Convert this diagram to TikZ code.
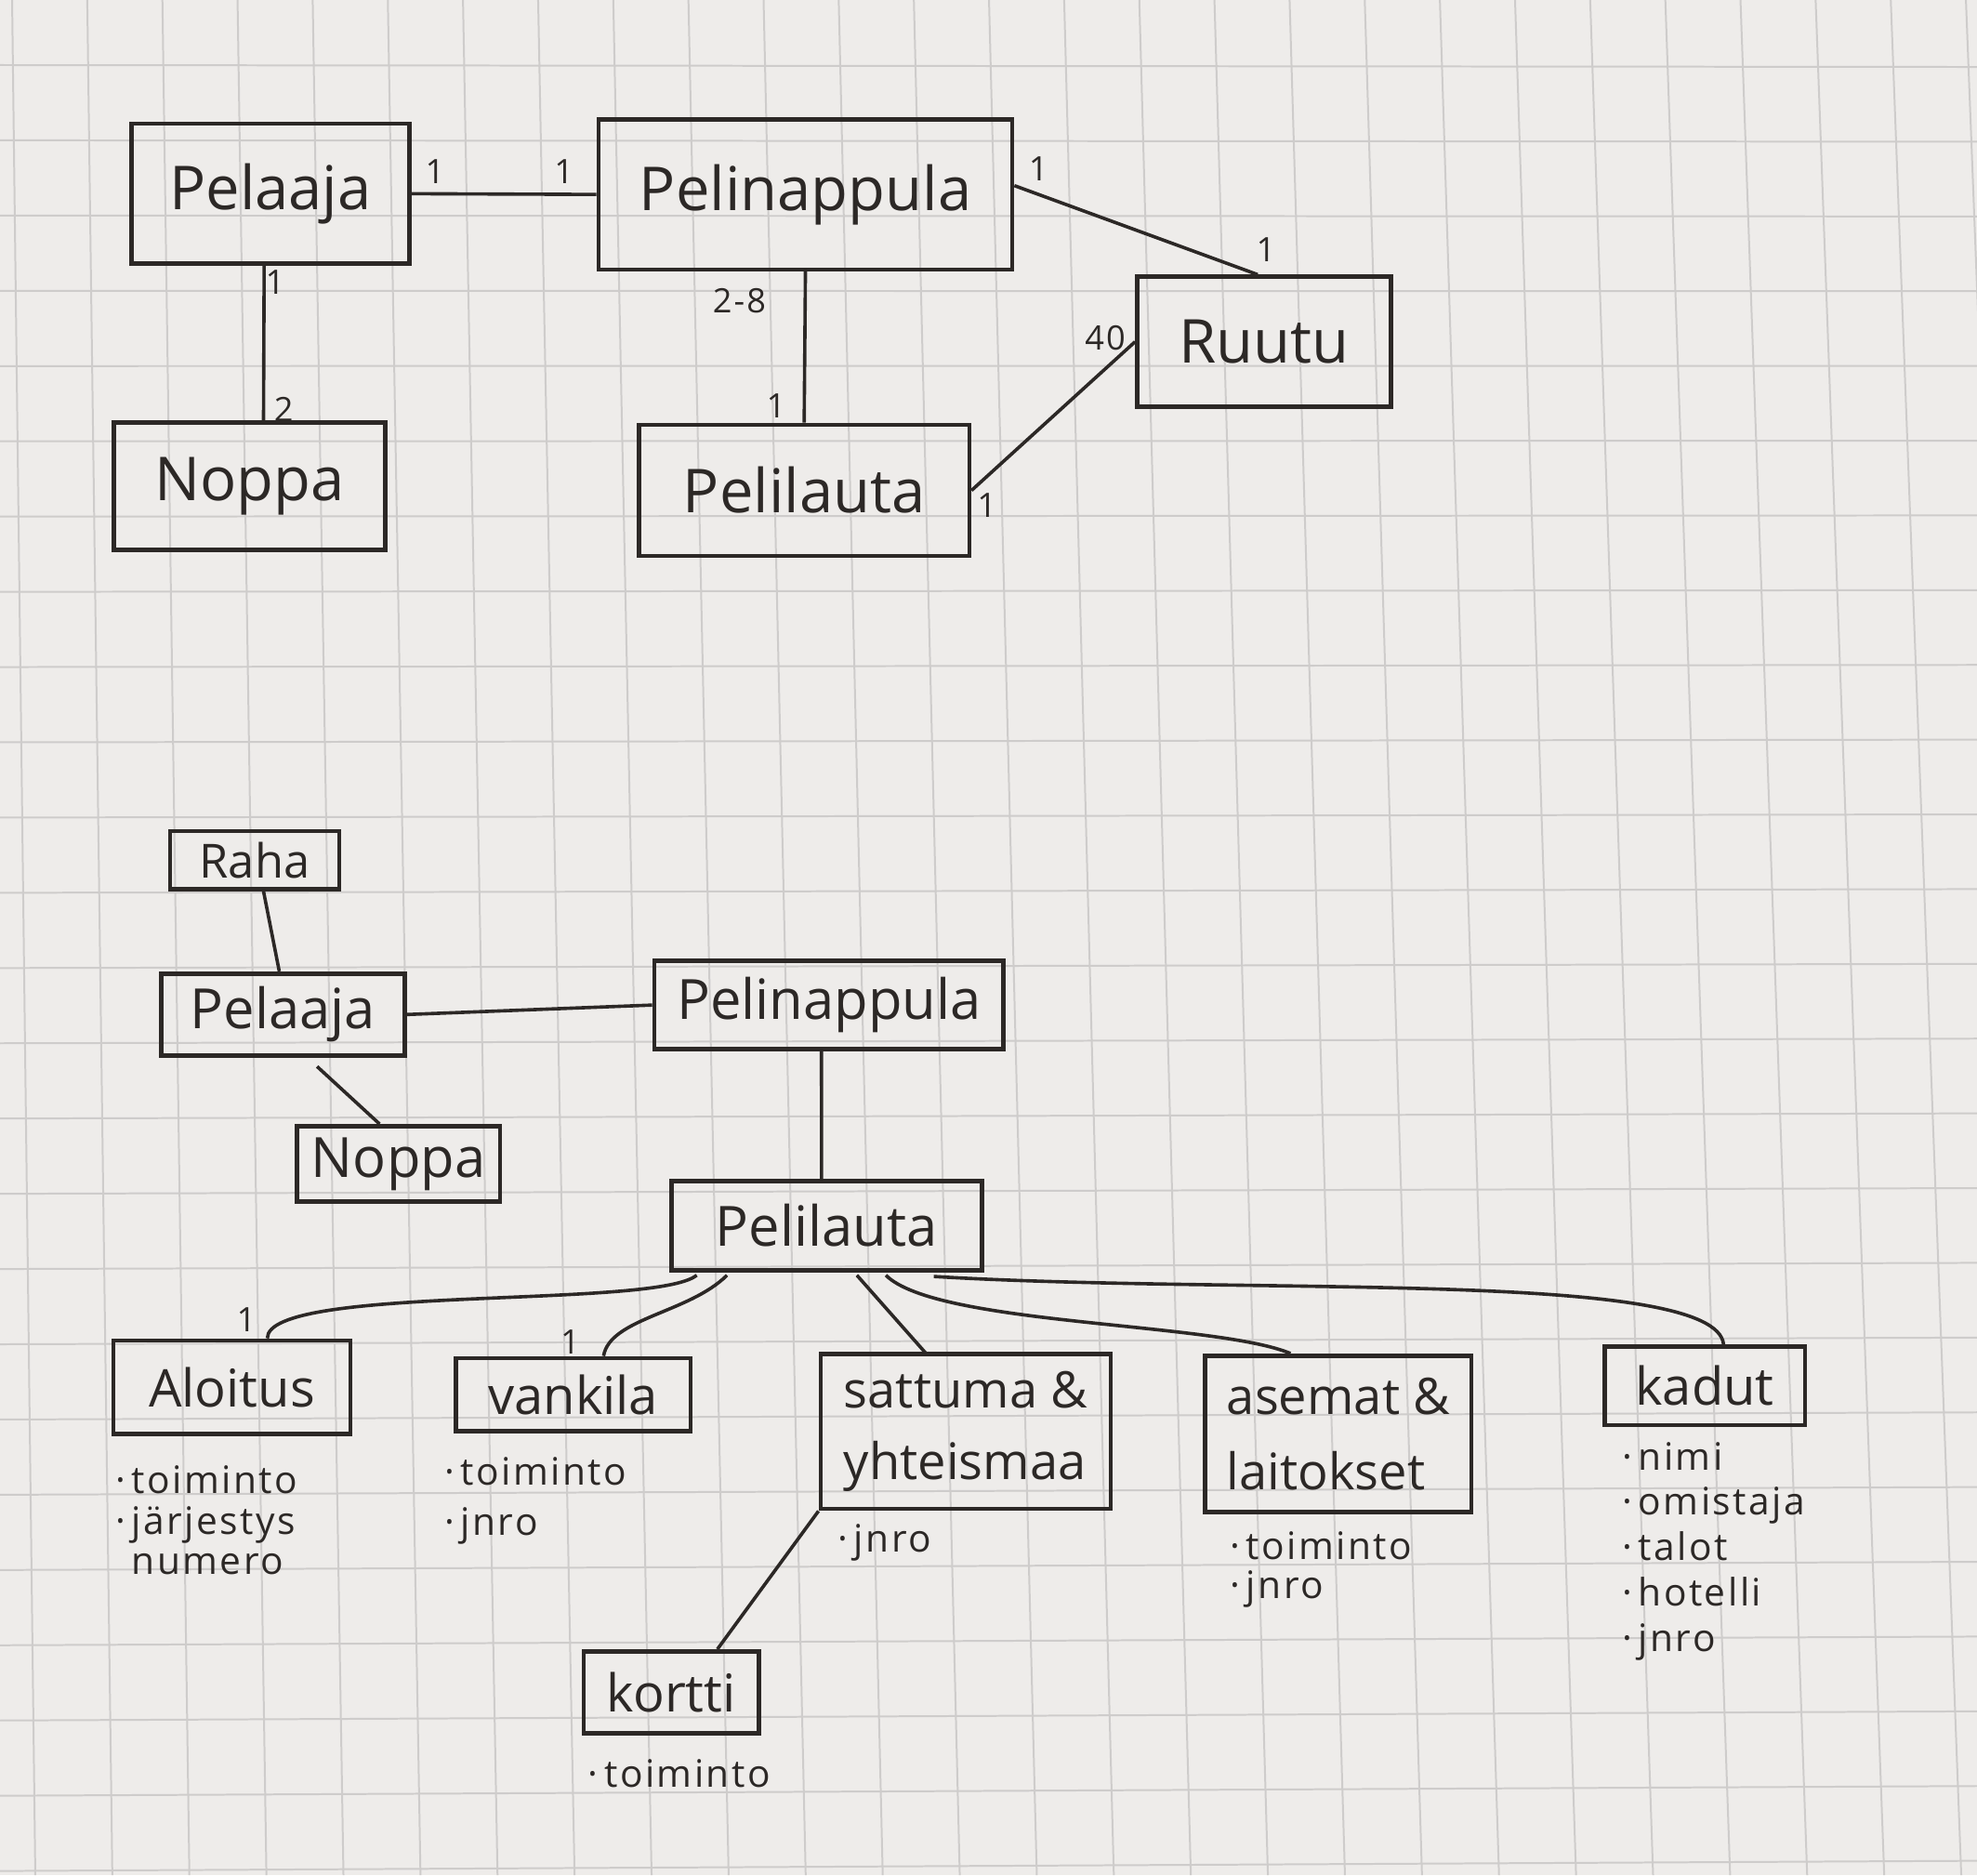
\documentclass[tikz,border=0pt]{standalone}
\usepackage{fontspec}
\setmainfont{Open Sans}
\newfontfamily\kasiala[LetterSpace=6]{Open Sans}
\usetikzlibrary{calc}

\definecolor{papier}{RGB}{238,236,234}
\definecolor{ruudukko}{RGB}{206,204,203}
\definecolor{muste}{RGB}{44,40,38}

\tikzset{every picture/.style={line width=0.75pt}}
\tikzset{
  luokka/.style={draw=muste, line width=2.6pt, rectangle, inner sep=0pt, text=muste, font=\fontsize{31}{40}\selectfont},
  iso/.style={font=\fontsize{36}{44}\selectfont},
  keski/.style={font=\fontsize{33}{40}\selectfont},
  mitat/.style 2 args={minimum width=#1*0.75pt, minimum height=#2*0.75pt},
  ominaisuus/.style={anchor=north west, inner sep=0pt, align=left, text=muste},
  luku/.style={inner sep=0pt, text=muste, font=\kasiala\fontsize{20}{22}\selectfont},
  yhteys/.style={draw=muste, line width=2pt},
  viiva/.style={draw=ruudukko, line width=1.1pt}
}

\begin{document}
\begin{tikzpicture}[x=0.75pt,y=0.75pt,yscale=-1,xscale=1]
    %Paper and grid
    \useasboundingbox (0,0) rectangle (1568,1487);
    \fill[papier] (0,0) rectangle (1568,1487);
    \foreach \k in {0,...,26} \draw[viiva] ({9.6+59.6*\k},0) -- ({28+61.1*\k},1487);
    \foreach \j in {0,...,24} \draw[viiva] (0,{51.6+59.67*\j}) -- (1568,{53.1+59.27*\j});

    %Shape: luokat (ylempi kaavio)
    \node[luokka, iso, mitat={220}{111}] (pelaaja) at (214.5,153.6) {Pelaaja};
    \node[luokka, iso, mitat={328}{119}] (nappula) at (638.8,154.2) {Pelinappula};
    \node[luokka, iso, mitat={201}{103}] (ruutu) at (1002.5,271) {Ruutu};
    \node[luokka, iso, mitat={215}{101}] (noppa) at (198,385.8) {Noppa};
    \node[luokka, iso, mitat={262}{104}] (lauta) at (637.8,388.9) {Pelilauta};

    %Straight Lines
    \draw[yhteys] (pelaaja.east) -- (nappula.west);
    \draw[yhteys] ($(pelaaja.south)+(-5,0)$) -- ($(noppa.north)+(11,0)$);
    \draw[yhteys] (nappula.south) -- (lauta.north);
    \draw[yhteys] ($(nappula.east)+(0,-7)$) -- ($(ruutu.north)+(-5,0)$);
    \draw[yhteys] (lauta.east) -- (ruutu.west);

    % Text Node: kertaluvut
    \node[luku] (mPelNap) at (345,136.4) {1};
    \node[luku] (mNapPel) at (447.3,136.4) {1};
    \node[luku] (mNapRuu) at (823.5,134) {1};
    \node[luku] (mRuuNap) at (1004,197.8) {1};
    \node[luku] (mRuuLau) at (876.6,267.8) {40};
    \node[luku] (mLauRuu) at (782.7,400.4) {1};
    \node[luku] (mNapLau) at (586.4,238.4) {2-8};
    \node[luku] (mLauNap) at (615.5,322) {1};
    \node[luku] (mPelNop) at (218.2,223.6) {1};
    \node[luku] (mNopPel) at (225,324.4) {2};

    %Shape: luokat (alempi kaavio)
    \node[luokka, mitat={134}{46}, font=\fontsize{28}{34}\selectfont] (raha) at (202,682) {Raha};
    \node[luokka, keski, mitat={193}{65}] (pelaaja2) at (224.5,804.5) {Pelaaja};
    \node[luokka, keski, mitat={277}{70}] (nappula2) at (657.5,797) {Pelinappula};
    \node[luokka, keski, mitat={161}{60}] (noppa2) at (316,923) {Noppa};
    \node[luokka, keski, mitat={246}{71}] (lauta2) at (655.6,972) {Pelilauta};
    \node[luokka, mitat={188}{74}] (aloitus) at (184,1100) {Aloitus};
    \node[luokka, mitat={186}{58}] (vankila) at (454.7,1106) {vankila};
    \node[luokka, align=left, mitat={230}{123}, font=\fontsize{30}{42.3}\selectfont] (sattuma) at (765.9,1135) {sattuma \&\\yhteismaa};
    \node[luokka, align=left, mitat={211}{124}, font=\fontsize{30}{45}\selectfont] (asemat) at (1061.5,1137) {asemat \&\\laitokset};
    \node[luokka, mitat={159}{62}] (kadut) at (1352,1099) {kadut};
    \node[luokka, mitat={139}{65}] (kortti) at (532.5,1342) {kortti};

    %Straight Lines and curves
    \draw[yhteys] ($(raha.south)+(7,0)$) -- ($(pelaaja2.north)+(-3,0)$);
    \draw[yhteys] (pelaaja2.east) -- (nappula2.west);
    \draw[yhteys] ($(pelaaja2.south)+(27,7)$) -- ($(noppa2.north)+(-15,0)$);
    \draw[yhteys] ($(nappula2.south)+(-6,0)$) -- ($(lauta2.north)+(-4,0)$);
    \draw[yhteys] ($(lauta2.south)+(-103,2)$) .. controls +(-33,27) and +(0,-43) .. ($(aloitus.north)+(28,0)$);
    \draw[yhteys] ($(lauta2.south)+(-79,2)$) .. controls +(-30,30) and +(5,-30) .. ($(vankila.north)+(24,0)$);
    \draw[yhteys] ($(lauta2.south)+(24,2)$) -- ($(sattuma.north)+(-31,2)$);
    \draw[yhteys] ($(lauta2.south)+(47,2)$) .. controls +(40,40) and +(-60,-25) .. ($(asemat.north)+(-38,0)$);
    \draw[yhteys] ($(lauta2.south)+(85,3)$) .. controls +(250,15) and +(-5,-60) .. ($(kadut.north)+(15,0)$);
    \draw[yhteys] (sattuma.south west) -- ($(kortti.north)+(36.5,0)$);

    % Text Node: kertaluvut
    \node[luku] (mLauAlo) at (195.3,1046.8) {1};
    \node[luku] (mLauVan) at (452.2,1064) {1};

    % Text Node: ominaisuudet
    \node[ominaisuus, font=\kasiala\fontsize{22.5}{24}\selectfont] (aloitusOm) at (91,1162) {·\,toiminto\\·\,järjestys\\\phantom{·\,}numero};
    \node[ominaisuus, font=\kasiala\fontsize{22.5}{30}\selectfont] (vankilaOm) at (352,1155) {·\,toiminto\\·\,jnro};
    \node[ominaisuus, font=\kasiala\fontsize{22.5}{30}\selectfont] (sattumaOm) at (664,1208) {·\,jnro};
    \node[ominaisuus, font=\kasiala\fontsize{22.5}{23.5}\selectfont] (asematOm) at (975,1214) {·\,toiminto\\·\,jnro};
    \node[ominaisuus, font=\kasiala\fontsize{22.5}{27}\selectfont] (kadutOm) at (1286,1143) {·\,nimi\\·\,omistaja\\·\,talot\\·\,hotelli\\·\,jnro};
    \node[ominaisuus, font=\kasiala\fontsize{22.5}{30}\selectfont] (korttiOm) at (466,1395) {·\,toiminto};
\end{tikzpicture}
\end{document}
